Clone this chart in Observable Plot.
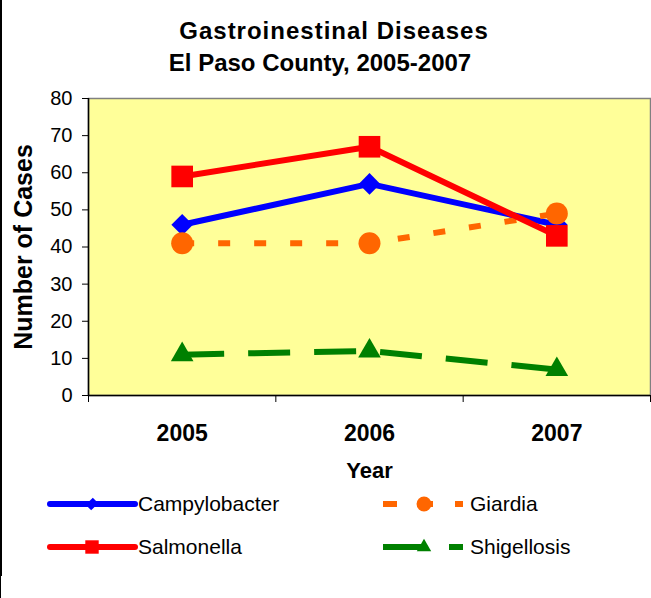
<!DOCTYPE html>
<html>
<head>
<meta charset="utf-8">
<script src="https://cdn.jsdelivr.net/npm/d3@7"></script>
<script src="https://cdn.jsdelivr.net/npm/@observablehq/plot@0.6"></script>
<style>
  html, body { margin: 0; padding: 0; background: #fff; }
  body { width: 651px; height: 598px; position: relative; overflow: hidden;
         font-family: "Liberation Sans", Arial, sans-serif; color: #000; }
  .bar1 { position: absolute; left: 0; top: 0; width: 2px; height: 576px; background: #000; }
  .bar2 { position: absolute; left: 0; top: 576px; width: 1px; height: 22px; background: #000; }
  .t { position: absolute; font-weight: bold; font-size: 24px; white-space: nowrap; line-height: 1; }
  #chart { position: absolute; left: 0; top: 80px; }
  .leg { position: absolute; font-size: 21px; white-space: nowrap; line-height: 1; }
  .sw { position: absolute; overflow: visible; }
</style>
</head>
<body>
<div class="bar1"></div><div class="bar2"></div>
<div class="t" id="t1" style="letter-spacing:1px"></div>
<div class="t" id="t2"></div>
<div id="chart"></div>
<div id="legend"></div>
<script>
// ---- data ----
const years = [2005, 2006, 2007];
const seriesNames = ["Campylobacter", "Giardia", "Salmonella", "Shigellosis"];
const campylobacter = [46, 57, 46];
const giardia = [41, 41, 49];
const salmonella = [59, 67, 43];
const shigellosis = [11, 12, 7];
const yTicks = [0, 10, 20, 30, 40, 50, 60, 70, 80];
const titleLines = ["Gastroinestinal Diseases", "El Paso County, 2005-2007"];
const xLabel = "Year";
const yLabel = "Number of Cases";

// ---- styles (not data) ----
const styles = {
  Campylobacter: {color: "#0000FF", dash: null, symbol: "square", rotate: 45, r: 8.6},
  Giardia: {color: "#FF6600", dash: "12,24", symbol: "circle", r: 11},
  Salmonella: {color: "#FF0000", dash: null, symbol: "square", rotate: 0, r: 12.2},
  Shigellosis: {color: "#008000", dash: "42,24", symbol: "triangle", r: 8.4}
};
const valuesBySeries = {Campylobacter: campylobacter, Giardia: giardia, Salmonella: salmonella, Shigellosis: shigellosis};

const rows = seriesNames.map(name => years.map((y, i) => ({series: name, year: y, value: valuesBySeries[name][i]})));

// title
document.getElementById("t1").textContent = titleLines[0];
document.getElementById("t2").textContent = titleLines[1];
function placeTitle(id, cx, baseline) {
  const el = document.getElementById(id);
  const w = el.getBoundingClientRect().width;
  el.style.left = (cx - w / 2) + "px";
  el.style.top = (baseline - 24 * 0.905) + "px";
}
placeTitle("t1", 334, 41);
placeTitle("t2", 320, 73);

const xDomain = [years[0] - 0.5, years[years.length - 1] + 0.5];
const boundaries = [...years.map(y => y - 0.5), years[years.length - 1] + 0.5];

const marks = [
  Plot.frame({fill: "#FFFF99", stroke: "#808080", strokeWidth: 1.5}),
  Plot.ruleY([0], {stroke: "#000", strokeWidth: 1.5}),
  Plot.ruleX([xDomain[0]], {stroke: "#000", strokeWidth: 1.5}),
  Plot.axisY({ticks: yTicks, tickSize: 6, tickPadding: 10, fontSize: 20, label: null}),
  Plot.axisX({ticks: boundaries, tickSize: 7, tickFormat: () => "", label: null}),
  Plot.axisX({ticks: years, tickSize: 0, tickPadding: 29, fontSize: 23, fontWeight: "bold",
              tickFormat: d => String(d), label: null}),
  Plot.text([xLabel], {frameAnchor: "bottom", lineAnchor: "middle", dy: 75, fontSize: 22, fontWeight: "bold"}),
  Plot.text([yLabel], {frameAnchor: "left", textAnchor: "middle", lineAnchor: "middle", rotate: -90, dx: -65, fontSize: 25, fontWeight: "bold"})
];
for (const data of rows) {
  const s = styles[data[0].series];
  marks.push(Plot.line(data, {x: "year", y: "value", stroke: s.color, strokeWidth: 6,
    strokeDasharray: s.dash || undefined, strokeLinecap: "butt", strokeLinejoin: "round"}));
  marks.push(Plot.dot(data, {x: "year", y: "value", symbol: s.symbol, r: s.r, fill: s.color,
    stroke: "none", rotate: s.rotate || 0}));
}

const chart = Plot.plot({
  width: 651,
  height: 410,
  marginTop: 18,
  marginBottom: 95,
  marginLeft: 88,
  marginRight: 1,
  style: {fontFamily: '"Liberation Sans", Arial, sans-serif', color: "#000", background: "transparent"},
  x: {domain: xDomain, axis: null},
  y: {domain: [0, 80], axis: null},
  marks
});
document.getElementById("chart").append(chart);

// ---- legend ----
const legendLayout = [
  {name: "Campylobacter", x0: 50, x1: 135, mx: 92, y: 504, tx: 138, cap: "round", dash: null},
  {name: "Giardia", x0: 383, x1: 463, mx: 424, y: 504, tx: 470, cap: "butt", dash: "14,22"},
  {name: "Salmonella", x0: 50, x1: 135, mx: 92, y: 547, tx: 138, cap: "round", dash: null},
  {name: "Shigellosis", x0: 383, x1: 463, mx: 424, y: 547, tx: 470, cap: "butt", dash: "42,24"}
];
const legend = document.getElementById("legend");
const NS = "http://www.w3.org/2000/svg";
for (const L of legendLayout) {
  const s = styles[L.name];
  const svg = document.createElementNS(NS, "svg");
  svg.setAttribute("class", "sw");
  svg.setAttribute("width", 651); svg.setAttribute("height", 598);
  svg.style.left = "0px"; svg.style.top = "0px";
  const line = document.createElementNS(NS, "line");
  line.setAttribute("x1", L.x0); line.setAttribute("x2", L.x1);
  line.setAttribute("y1", L.y); line.setAttribute("y2", L.y);
  line.setAttribute("stroke", s.color); line.setAttribute("stroke-width", 6);
  line.setAttribute("stroke-linecap", L.cap);
  if (L.dash) line.setAttribute("stroke-dasharray", L.dash);
  svg.appendChild(line);
  const p = document.createElementNS(NS, "path");
  let sym;
  if (L.name === "Campylobacter") sym = d3.symbol(d3.symbolSquare, 60)();
  else if (L.name === "Salmonella") sym = d3.symbol(d3.symbolSquare, 180)();
  else if (L.name === "Giardia") sym = d3.symbol(d3.symbolCircle, 175)();
  else sym = d3.symbol(d3.symbolTriangle, 90)();
  p.setAttribute("d", sym);
  p.setAttribute("fill", s.color);
  p.setAttribute("transform", `translate(${L.mx},${L.y})` + (L.name === "Campylobacter" ? " rotate(45) scale(1,1.3)" : ""));
  svg.appendChild(p);
  legend.appendChild(svg);
  const t = document.createElement("div");
  t.className = "leg"; t.textContent = L.name;
  t.style.left = L.tx + "px";
  t.style.top = (L.y + 8 - 21 * 0.905) + "px";
  legend.appendChild(t);
}
</script>
</body>
</html>
